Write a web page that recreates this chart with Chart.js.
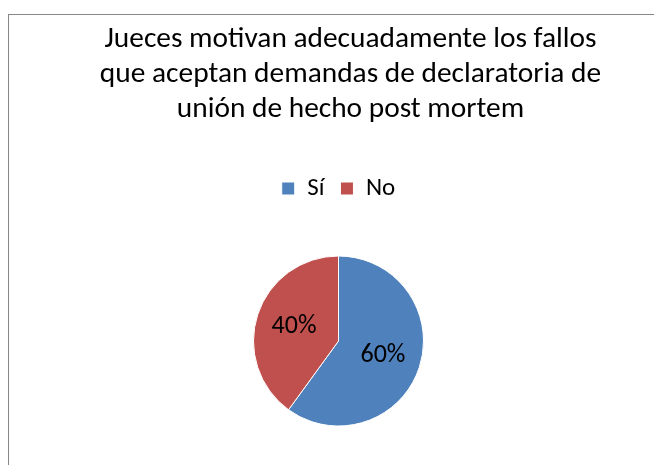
<!DOCTYPE html>
<html>
<head>
<meta charset="utf-8">
<script src="https://cdn.jsdelivr.net/npm/chart.js@4.4.1/dist/chart.umd.min.js"></script>
<style>
  html, body { margin: 0; padding: 0; width: 654px; height: 465px; overflow: hidden; background: #fff; }
  #frame { position: absolute; left: 8px; top: 14px; width: 800px; height: 600px; border: 1px solid #878787; box-sizing: border-box; }
  #title { position: absolute; left: 0; top: 20px; width: 701px; text-align: center;
           font-family: Carlito, "Liberation Sans Narrow", sans-serif; font-size: 29.4px; line-height: 35px; color: #000; }
  #wrap { position: absolute; left: 0; top: 0; width: 654px; height: 480px; }
</style>
</head>
<body>
<div id="frame"></div>
<div id="wrap"><canvas id="chart" width="654" height="480"></canvas></div>
<div id="title"></div>
<script>
const titleLines = ["Jueces motivan adecuadamente los fallos", "que aceptan demandas de declaratoria de", "unión de hecho post mortem"];
const categories = ["Sí", "No"];
const values = [60, 40];
const percentLabels = ["60%", "40%"];
const colors = ["#4F81BD", "#C0504D"];

document.getElementById('title').innerHTML = titleLines.join('<br>');

const FONT = 'Carlito, "Liberation Sans Narrow", sans-serif';

const pctPlugin = {
  id: 'pctLabels',
  afterDatasetsDraw(chart) {
    const ctx = chart.ctx;
    const meta = chart.getDatasetMeta(0);
    ctx.save();
    ctx.font = '26px ' + FONT;
    ctx.fillStyle = '#000';
    ctx.textAlign = 'center';
    ctx.textBaseline = 'middle';
    meta.data.forEach((arc, i) => {
      const p = arc.getProps(['x', 'y', 'startAngle', 'endAngle', 'outerRadius'], true);
      const mid = (p.startAngle + p.endAngle) / 2;
      const r = p.outerRadius * 0.55;
      ctx.fillText(percentLabels[i], p.x + Math.cos(mid) * r, p.y + Math.sin(mid) * r);
    });
    ctx.restore();
  }
};

new Chart(document.getElementById('chart'), {
  type: 'pie',
  data: {
    labels: categories,
    datasets: [{
      data: values,
      backgroundColor: colors,
      borderColor: '#ffffff',
      borderWidth: 1
    }]
  },
  options: {
    responsive: false,
    animation: false,
    layout: { padding: { top: 160, left: 253, right: 230, bottom: 9 } },
    plugins: {
      title: { display: false },
      tooltip: { enabled: false },
      legend: {
        display: true,
        position: 'top',
        labels: {
          boxWidth: 13,
          boxHeight: 13,
          padding: 16,
          color: '#000',
          font: { family: FONT, size: 25 }
        }
      }
    }
  },
  plugins: [pctPlugin]
});
</script>
</body>
</html>
